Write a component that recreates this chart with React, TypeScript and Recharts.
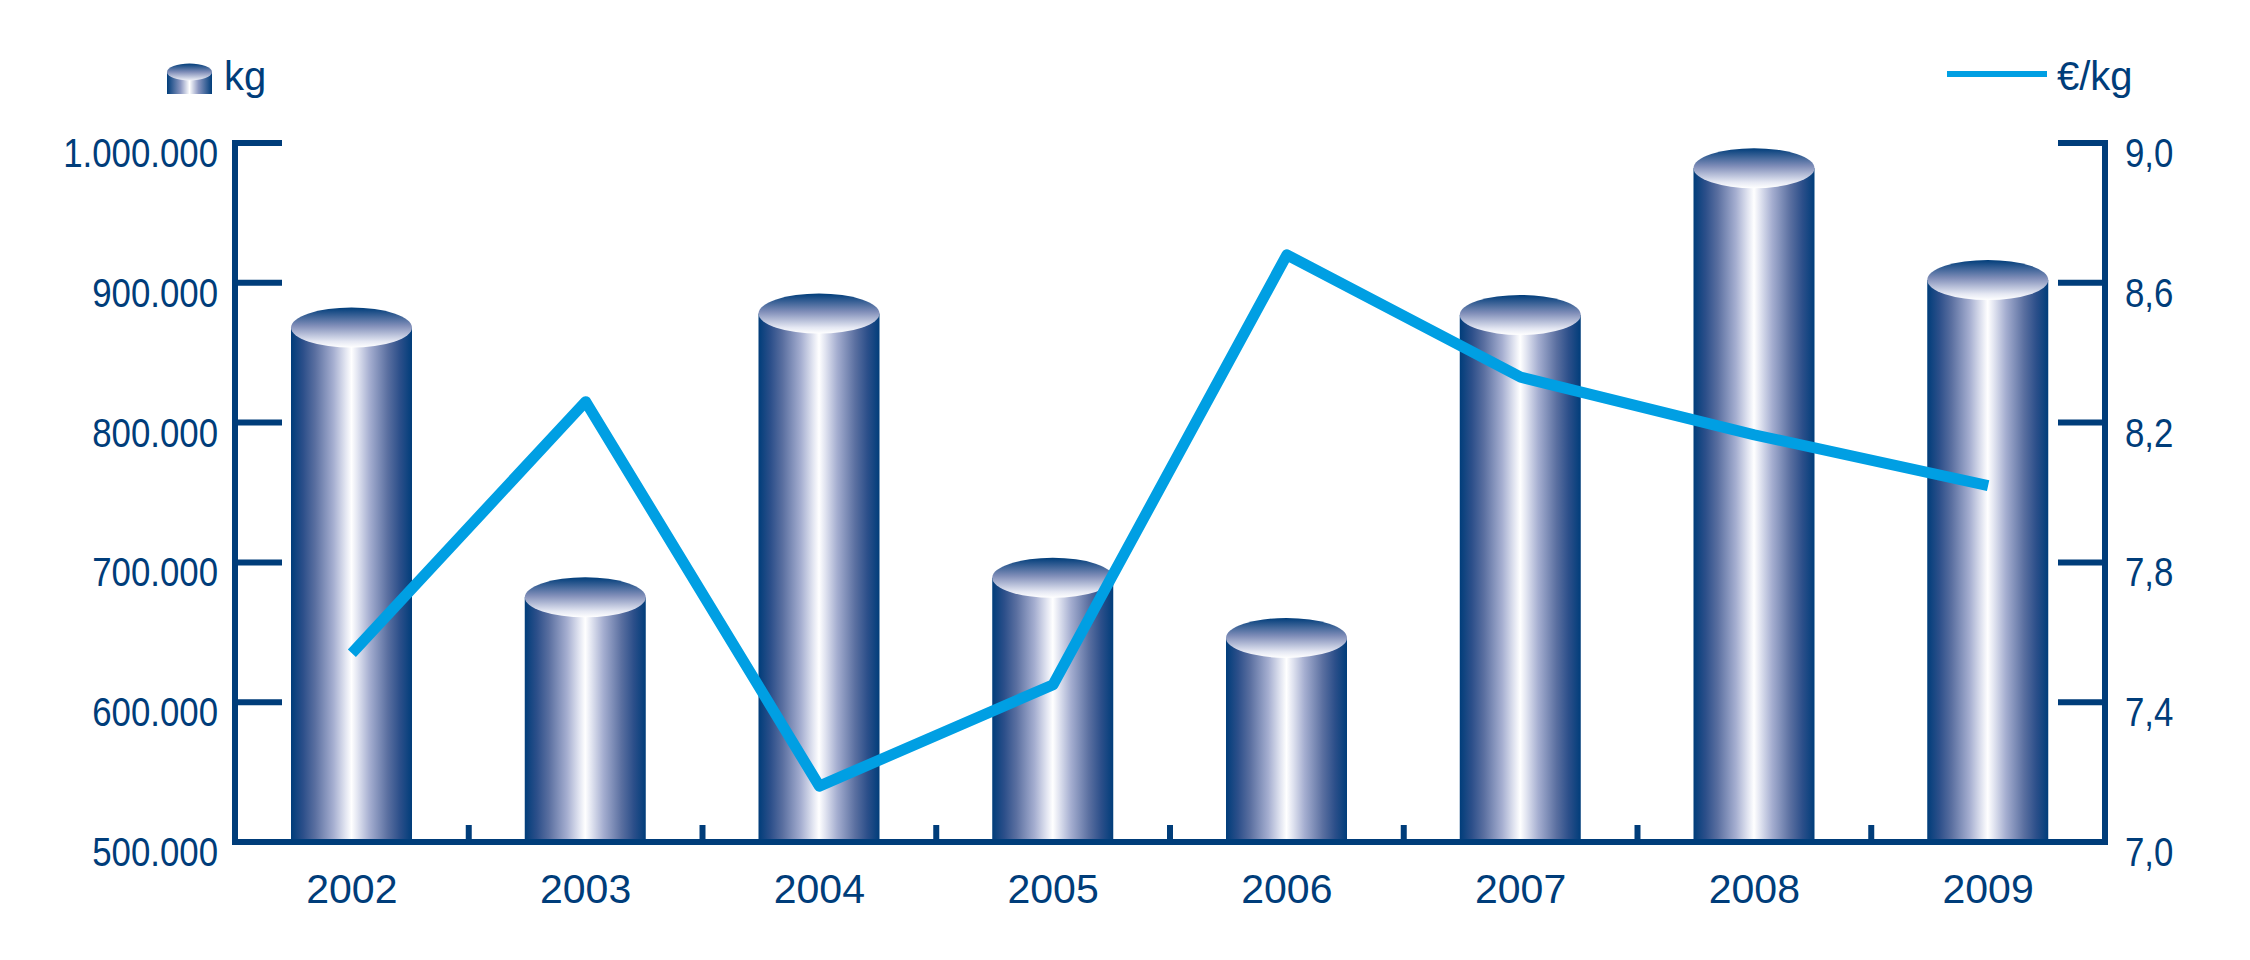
import React from 'react';
import { ComposedChart, Bar, Line, XAxis, YAxis, Legend } from 'recharts';

const years = ['2002', '2003', '2004', '2005', '2006', '2007', '2008', '2009'];
const kgValues = [868000, 675000, 878000, 689000, 646000, 877000, 982000, 902000];
const eurPerKg = [7.54, 8.26, 7.16, 7.45, 8.68, 8.33, 8.165, 8.02];
const kgTicks = [500000, 600000, 700000, 800000, 900000, 1000000];
const eurTicks = [7.0, 7.4, 7.8, 8.2, 8.6, 9.0];

const data = years.map((y, i) => ({ year: y, kg: kgValues[i], eur: eurPerKg[i] }));

const W = 2250;
const H = 960;
const M = { top: 143, right: 144, bottom: 117, left: 234 };
const PLOT_W = W - M.left - M.right - 2;
const NAVY = '#003D7A';
const CYAN = '#009FE3';
const FONT = '"Liberation Sans", Arial, Helvetica, sans-serif';

const fmtKg = (v: number) => String(v).replace(/\B(?=(\d{3})+(?!\d))/g, '.');
const fmtEur = (v: number) => v.toFixed(1).replace('.', ',');

const Defs = () => (
  <defs>
    <linearGradient id="cylBody" x1="0" y1="0" x2="1" y2="0">
      <stop offset="0" stopColor="#003D7A" />
      <stop offset="0.1" stopColor="#2C4F8A" />
      <stop offset="0.2" stopColor="#5A6FA0" />
      <stop offset="0.35" stopColor="#A5AED0" />
      <stop offset="0.45" stopColor="#E2E5F1" />
      <stop offset="0.5" stopColor="#FFFFFF" />
      <stop offset="0.55" stopColor="#E2E5F1" />
      <stop offset="0.65" stopColor="#A5AED0" />
      <stop offset="0.8" stopColor="#5A6FA0" />
      <stop offset="0.9" stopColor="#2C4F8A" />
      <stop offset="1" stopColor="#003D7A" />
    </linearGradient>
    <linearGradient id="cylTop" x1="0" y1="0" x2="0" y2="1">
      <stop offset="0" stopColor="#003D7A" />
      <stop offset="0.45" stopColor="#7F8DB8" />
      <stop offset="0.85" stopColor="#E5E8F3" />
      <stop offset="1" stopColor="#FFFFFF" />
    </linearGradient>
  </defs>
);

const Cylinder = (props: any) => {
  const { x, y, width, height } = props;
  if (width == null || height == null) return null;
  const rx = width / 2;
  return (
    <g>
      <rect x={x} y={y} width={width} height={height} fill="url(#cylBody)" />
      <ellipse cx={x + rx} cy={y} rx={rx} ry={20} fill="url(#cylTop)" />
    </g>
  );
};

const LeftTick = (props: any) => {
  const { x, y, payload } = props;
  return (
    <g>
      <line x1={x} x2={x + 47} y1={y} y2={y} stroke={NAVY} strokeWidth={6} />
      <text
        transform={`translate(${x - 17},${y + 24}) scale(0.87,1)`}
        textAnchor="end"
        fill={NAVY}
        fontSize={40}
        fontFamily={FONT}
      >
        {fmtKg(payload.value)}
      </text>
    </g>
  );
};

const RightTick = (props: any) => {
  const { x, y, payload } = props;
  return (
    <g>
      <line x1={x - 47} x2={x} y1={y} y2={y} stroke={NAVY} strokeWidth={6} />
      <text
        transform={`translate(${x + 20},${y + 24}) scale(0.87,1)`}
        textAnchor="start"
        fill={NAVY}
        fontSize={40}
        fontFamily={FONT}
      >
        {fmtEur(payload.value)}
      </text>
    </g>
  );
};

const BottomTick = (props: any) => {
  const { x, y, payload, index } = props;
  const bw = PLOT_W / years.length;
  return (
    <g>
      {index < years.length - 1 && (
        <line x1={x + bw / 2} x2={x + bw / 2} y1={y} y2={y - 17} stroke={NAVY} strokeWidth={6} />
      )}
      <text x={x} y={y + 61} textAnchor="middle" fill={NAVY} fontSize={41} fontFamily={FONT}>
        {payload.value}
      </text>
    </g>
  );
};

const LegendContent = () => (
  <svg width={W} height={130} style={{ display: 'block' }}>
    <defs>
      <linearGradient id="legBody" x1="0" y1="0" x2="1" y2="0">
        <stop offset="0" stopColor="#003D7A" />
        <stop offset="0.3" stopColor="#8A96C0" />
        <stop offset="0.5" stopColor="#FFFFFF" />
        <stop offset="0.7" stopColor="#8A96C0" />
        <stop offset="1" stopColor="#003D7A" />
      </linearGradient>
      <linearGradient id="legTop" x1="0" y1="0" x2="0" y2="1">
        <stop offset="0" stopColor="#003D7A" />
        <stop offset="0.5" stopColor="#7F8DB8" />
        <stop offset="1" stopColor="#F0F2F8" />
      </linearGradient>
    </defs>
    <rect x={167} y={72} width={45} height={22} fill="url(#legBody)" />
    <ellipse cx={189.5} cy={72} rx={22.5} ry={8.5} fill="url(#legTop)" />
    <text x={224} y={90} fill={NAVY} fontSize={40} fontFamily={FONT}>
      kg
    </text>
    <line x1={1947} x2={2047} y1={74} y2={74} stroke={CYAN} strokeWidth={6} />
    <text x={2057} y={90} fill={NAVY} fontSize={40} fontFamily={FONT}>
      €/kg
    </text>
  </svg>
);

export default function App() {
  return (
    <div style={{ position: 'absolute', left: 0, top: 0, width: W, height: H, background: '#fff' }}>
      <ComposedChart width={W} height={H} data={data} margin={M}>
        <Defs />
        <Legend
          layout="vertical"
          align="center"
          verticalAlign="middle"
          content={<LegendContent />}
          wrapperStyle={{ position: 'absolute', left: 0, top: 0, width: W, height: 130 }}
        />
        <Bar
          yAxisId="left"
          dataKey="kg"
          name="kg"
          barSize={121}
          shape={<Cylinder />}
          isAnimationActive={false}
        />
        <Line
          yAxisId="right"
          dataKey="eur"
          name="€/kg"
          type="linear"
          stroke={CYAN}
          strokeWidth={11}
          strokeLinejoin="round"
          dot={false}
          activeDot={false}
          isAnimationActive={false}
        />
        <XAxis
          dataKey="year"
          height={1}
          tickSize={0}
          tickMargin={0}
          tickLine={false}
          interval={0}
          axisLine={{ stroke: NAVY, strokeWidth: 6, strokeLinecap: 'square' }}
          tick={<BottomTick />}
        />
        <YAxis
          yAxisId="left"
          orientation="left"
          width={1}
          domain={[500000, 1000000]}
          ticks={kgTicks}
          interval={0}
          tickSize={0}
          tickMargin={0}
          tickLine={false}
          axisLine={{ stroke: NAVY, strokeWidth: 6, strokeLinecap: 'square' }}
          tick={<LeftTick />}
        />
        <YAxis
          yAxisId="right"
          orientation="right"
          width={1}
          domain={[7, 9]}
          ticks={eurTicks}
          interval={0}
          tickSize={0}
          tickMargin={0}
          tickLine={false}
          axisLine={{ stroke: NAVY, strokeWidth: 6, strokeLinecap: 'square' }}
          tick={<RightTick />}
        />
      </ComposedChart>
    </div>
  );
}
